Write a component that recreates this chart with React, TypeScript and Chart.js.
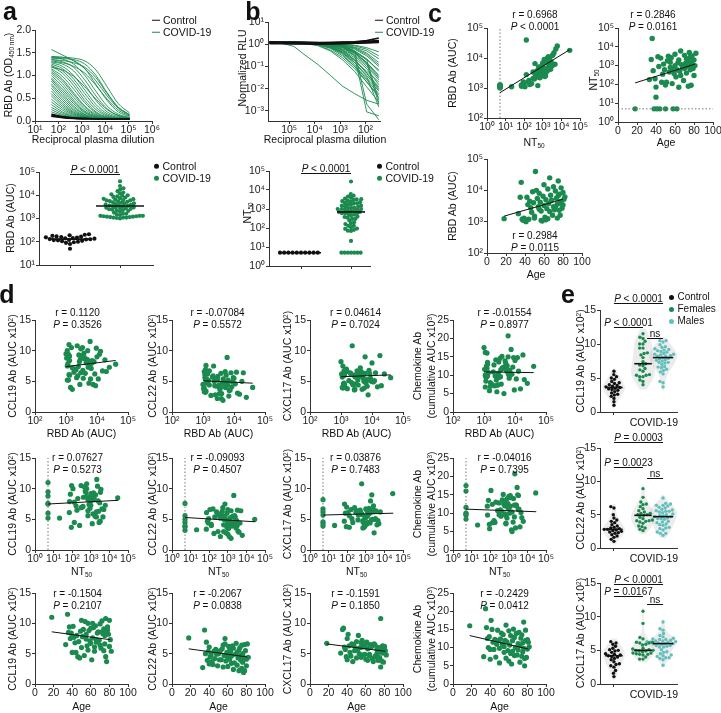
import React, { useEffect, useRef } from "react";
import { Chart, registerables } from "chart.js";

Chart.register(...registerables);

const FONT = "'Liberation Sans', Arial, Helvetica, sans-serif";
const GREEN = "#1b8a4f";
const TEAL = "#62bfbb";
const BLACK = "#111111";
const AXIS = "#333333";
const DOTTED = "#777777";

// ---------------- data ----------------
const patientAge = [18,33,35,36,37,38,39,40,40,41, 42,43,44,45,46,47,48,49,50,50, 51,52,53,54,55,55,56,57,57,58, 59,60,60,61,62,62,63,64,64,65, 66,66,67,68,69,70,70,71,72,72, 73,74,74,75,75,76,76,77,77,78, 78,79,80,80,81,82];
const patientSex = ["F","M","F","M","F","M","F","M","F","M", "M","F","F","M","F","M","M","F","M","F", "M","M","F","M","F","M","M","F","M","M", "F","M","M","F","M","F","M","M","F","M", "M","F","M","F","M","M","F","M","F","M", "M","F","M","M","F","M","F","M","M","F", "M","M","F","M","M","F"];
const patientNt50 = [5,180,2100,28000,540,5,200,72,21,5, 3000,900,5,2500,130,350,1200,600,93,5, 130,1800,3200,450,800,1500,2600,110,700,5, 380,1000,4000,250,5,600,1400,70,2000,500, 6000,300,1100,800,160,3500,700,1300,2300,400, 900,1700,80,5000,1000,2800,600,1500,90,3300, 1200,700,2000,300,1000,4500];
const patientRbd = [1250,1800,6000,18000,1200,1100,1300,1150,1100,1000, 6000,3500,1200,4500,2800,2000,9000,4000,1500,1300, 40000,10000,5500,3000,2500,8000,4200,1100,2200,1050, 6500,3300,15000,1400,1150,5000,2600,1250,11000,3800, 25000,2100,7000,4800,1600,13000,3000,2400,9500,2900, 5600,3600,1300,20000,6800,7500,2300,4400,1600,12000, 3900,2700,8500,3400,5200,6200];
const patientCcl19 = [11.0,6.5,11.5,8.5,9.4,7.5,8.4,7.9,5.2,9.5, 7.7,6.8,5.2,8.0,4.5,7.0,4.3,8.7,10.5,6.0, 7.8,9.0,4.7,10.3,7.4,8.2,6.3,10.0,5.6,8.8, 7.1,9.2,6.7,4.0,7.6,10.0,9.3,6.1,5.4,9.6, 7.3,6.9,8.4,8.6,7.2,9.9,6.4,5.9,10.4,8.6, 8.3,5.5,9.1,6.6,8.0,4.5,10.8,8.5,3.7,9.4, 8.9,8.2,6.2,10.5,7.3,5.4];
const patientCcl22 = [7.6,2.7,8.9,5.0,6.9,3.9,5.4,6.1,3.3,4.5, 4.8,3.7,3.2,5.4,4.2,5.7,4.9,3.0,5.1,5.0, 4.0,5.5,4.0,5.8,2.8,6.4,4.7,6.6,7.5,3.8, 5.2,4.4,2.9,6.2,5.6,4.1,5.3,3.4,4.6,6.3, 2.4,5.9,3.5,4.9,6.7,3.1,5.2,4.3,5.6,2.2, 6.0,3.9,4.7,6.4,2.6,3.6,5.0,1.9,4.4,6.5, 2.2,5.5,4.1,3.0,6.6,4.4];
const patientCxcl17 = [6.7,5.1,9.0,9.2,6.1,5.7,4.5,7.5,4.0,8.2, 6.3,5.2,4.6,6.6,3.7,6.4,5.5,5.9,7.0,4.3, 5.6,8.0,5.0,6.0,4.4,6.8,7.2,6.1,4.8,6.2, 4.9,6.7,4.1,6.9,3.9,5.8,6.0,4.7,4.9,6.5, 6.2,6.2,4.2,3.7,6.6,6.4,4.6,4.5,5.0,5.7, 3.9,4.4,6.0,4.3,5.3,2.8,10.8,5.9,3.8,5.1, 6.3,3.6,6.2,6.1,5.5,4.8];
const patientChemokine = [16.0,7.5,20.7,15.5,12.5,10.0,13.0,9.5,6.8,17.5, 15.0,11.5,9.5,12.3,7.4,10.9,14.8,12.0,5.8,9.8, 12.4,14.0,11.0,13.6,8.7,10.3,12.0,16.2,7.1,11.6, 9.2,14.6,6.3,10.7,8.4,13.3,5.5,11.9,9.0,15.1, 7.8,12.8,10.0,13.9,8.0,11.1,9.4,14.2,6.0,10.6, 12.6,7.6,13.5,8.8,11.3,17.0,9.8,5.0,7.0,14.8, 11.9,7.3,12.2,9.6,11.5,10.2];

const controlRbd = [130,150,120,95,180,210,140,110,160,125,100,200,135,90,115,170,145,50,105,190,128,80,155,118,165];
const controlNt50 = [5,5,5,5,5,5,5,5,5,5];
const controlCcl19 = [3.5,1.5,4.2,2.3,5.0,2.8,3.0,6.0,3.4,1.0,3.6,3.7,4.8,3.9,4.0,2.0,4.3,4.5,3.2,3.8,5.2,5.5,2.5,3.3,2.6];
const controlCcl22 = [2.8,1.3,4.0,1.8,2.0,6.2,2.3,2.5,2.6,2.7,1.0,2.8,2.9,3.0,3.1,3.3,3.5,3.8,1.6,4.2,4.5,5.0,6.0,2.2,2.4];
const controlCxcl17 = [4.1,1.6,5.0,2.5,2.7,3.0,6.3,3.6,3.8,4.0,1.1,4.2,4.3,4.5,4.7,4.9,2.0,5.1,5.3,5.6,5.9,6.1,3.3,2.9,4.4];

const elisaDilutions = [50,150,450,1350,4050,12150,36450,109350];
const elisaControlCurves = [
  [0.15,0.10,0.07,0.06,0.05,0.05,0.05,0.05],
  [0.13,0.09,0.06,0.05,0.05,0.05,0.05,0.05],
  [0.11,0.08,0.06,0.05,0.05,0.05,0.05,0.05],
  [0.10,0.07,0.055,0.05,0.05,0.05,0.05,0.05],
];
const elisaCovidCurves = [
  [1.57,1.45,1.32,1.15,0.88,0.55,0.28,0.13],
  [1.40,1.40,1.38,1.32,1.12,0.75,0.38,0.18],
  [1.38,1.37,1.35,1.25,1.00,0.62,0.30,0.14],
  [1.42,1.40,1.33,1.15,0.80,0.45,0.20,0.10],
  [1.40,1.36,1.25,1.00,0.65,0.33,0.15,0.08],
  [1.35,1.30,1.18,0.90,0.55,0.27,0.12,0.07],
  [1.30,1.25,1.10,0.80,0.45,0.20,0.10,0.06],
  [1.28,1.20,1.00,0.68,0.36,0.16,0.08,0.06],
  [1.25,1.15,0.92,0.60,0.30,0.13,0.07,0.05],
  [1.22,1.10,0.85,0.52,0.25,0.11,0.06,0.05],
  [1.20,1.05,0.78,0.45,0.20,0.09,0.06,0.05],
  [1.15,0.98,0.70,0.40,0.18,0.08,0.05,0.05],
  [1.12,0.92,0.62,0.33,0.15,0.07,0.05,0.05],
  [1.08,0.88,0.58,0.30,0.13,0.07,0.05,0.05],
  [1.05,0.82,0.52,0.26,0.11,0.06,0.05,0.05],
  [1.00,0.76,0.46,0.22,0.10,0.06,0.05,0.05],
  [0.95,0.70,0.42,0.20,0.09,0.06,0.05,0.05],
  [0.92,0.65,0.38,0.18,0.08,0.05,0.05,0.05],
  [0.88,0.60,0.33,0.15,0.07,0.05,0.05,0.05],
  [0.82,0.55,0.30,0.14,0.07,0.05,0.05,0.05],
  [0.78,0.50,0.26,0.12,0.06,0.05,0.05,0.05],
  [0.72,0.45,0.23,0.11,0.06,0.05,0.05,0.05],
  [0.66,0.40,0.20,0.10,0.06,0.05,0.05,0.05],
  [0.60,0.36,0.18,0.09,0.06,0.05,0.05,0.05],
  [0.55,0.32,0.16,0.08,0.05,0.05,0.05,0.05],
  [0.48,0.28,0.14,0.08,0.05,0.05,0.05,0.05],
  [0.42,0.24,0.12,0.07,0.05,0.05,0.05,0.05],
  [0.36,0.20,0.10,0.07,0.05,0.05,0.05,0.05],
  [0.30,0.17,0.09,0.06,0.05,0.05,0.05,0.05],
  [0.25,0.14,0.08,0.06,0.05,0.05,0.05,0.05],
  [0.20,0.12,0.07,0.06,0.05,0.05,0.05,0.05],
  [1.32,1.28,1.20,1.05,0.78,0.48,0.24,0.11],
  [1.18,1.12,0.98,0.75,0.48,0.25,0.12,0.07],
  [1.35,1.33,1.28,1.18,0.95,0.60,0.30,0.14],
];

const neutDilutions = [590490,196830,65610,21870,7290,2430,810,270,90,30];
const neutControlCurves = [
  [1.15,1.15,1.12,1.1,1.1,1.12,1.15,1.2,1.25,1.3],
  [1.25,1.2,1.2,1.18,1.15,1.18,1.2,1.25,1.35,1.45],
  [1.1,1.1,1.08,1.05,1.05,1.08,1.1,1.12,1.2,1.25],
  [1.3,1.25,1.25,1.22,1.2,1.2,1.25,1.3,1.45,1.9],
  [1.2,1.15,1.15,1.12,1.12,1.15,1.18,1.22,1.3,1.4],
  [1.05,1.05,1.03,1.02,1.0,1.02,1.05,1.1,1.15,1.2],
];
const neutCovidCurves = [
  [1.3,1.1,0.8,0.3,0.12,0.04,0.013,0.006,0.003,0.002],
  [1.2,1.25,1.2,1.15,1.1,1.0,0.9,0.5,0.002,0.0004],
  [1.15,1.2,1.2,1.15,1.1,1.0,0.8,0.3,0.0009,0.0006],
  [1.25,1.2,1.2,1.1,1.0,0.7,0.35,0.1,0.02,0.005],
  [1.2,1.3,1.15,1.1,1.0,0.8,0.5,0.2,0.05,0.012],
  [1.1,1.2,1.2,1.15,1.05,0.9,0.65,0.35,0.12,0.03],
  [1.2,1.15,1.2,1.2,1.1,1.0,0.8,0.5,0.22,0.06],
  [1.3,1.2,1.25,1.2,1.15,1.05,0.9,0.7,0.4,0.15],
  [1.2,1.2,1.2,1.2,1.2,1.1,1.0,0.85,0.6,0.3],
  [1.25,1.2,1.2,1.1,0.9,0.55,0.25,0.08,0.02,0.004],
  [1.2,1.2,1.15,1.05,0.85,0.5,0.2,0.06,0.012,0.0025],
  [1.15,1.2,1.2,1.15,1.0,0.75,0.45,0.18,0.06,0.02],
  [1.2,1.25,1.2,1.2,1.1,0.95,0.7,0.4,0.15,0.04],
  [1.2,1.2,1.3,1.2,1.15,1.0,0.85,0.6,0.3,0.1],
  [1.35,1.2,1.2,1.15,1.05,0.85,0.55,0.25,0.08,0.015],
  [1.2,1.2,1.2,1.1,0.95,0.65,0.3,0.1,0.03,0.008],
  [1.2,1.15,1.2,1.2,1.1,0.9,0.6,0.3,0.1,0.025],
  [1.2,1.2,1.2,1.2,1.2,1.15,1.05,0.9,0.7,0.45],
  [1.1,1.2,1.2,1.15,1.1,0.95,0.75,0.45,0.2,0.07],
  [1.2,1.2,1.2,1.2,1.15,1.05,0.9,0.65,0.35,0.12],
  [1.2,1.25,1.2,1.1,1.0,0.75,0.4,0.12,0.025,0.006],
  [1.2,1.2,1.2,1.2,1.1,0.9,0.55,0.2,0.05,0.01],
  [1.25,1.2,1.15,1.1,0.95,0.7,0.4,0.15,0.04,0.009],
  [1.2,1.2,1.2,1.2,1.15,1.0,0.75,0.4,0.14,0.035],
  [1.2,1.2,1.2,1.2,1.2,1.1,0.95,0.75,0.5,0.22],
  [1.2,1.2,1.2,1.15,1.05,0.8,0.45,0.15,0.035,0.0015],
  [1.2,1.2,1.2,1.2,1.1,0.95,0.75,0.45,0.15,0.002],
  [1.2,1.2,1.2,1.2,1.15,1.0,0.8,0.5,0.2,0.003],
];

// regression lines (endpoints)
const fitRbdVsNt50 = [[5, 700], [28000, 19000]];
const fitNt50VsAge = [[18, 120], [81, 1200]];
const fitRbdVsAge = [[18, 1500], [80, 5200]];
const fitsD = [
  [[[1000, 7.4], [40000, 8.4]], [[1000, 5.1], [40000, 4.7]], [[1000, 5.75], [40000, 6.05]], [[1000, 10.9], [40000, 10.7]]],
  [[[5, 7.5], [30000, 8.1]], [[5, 5.3], [30000, 4.6]], [[5, 5.7], [30000, 6.0]], [[5, 11.1], [30000, 10.4]]],
  [[[18, 8.6], [81, 7.3]], [[18, 5.8], [81, 4.45]], [[18, 6.6], [81, 5.4]], [[18, 13.3], [81, 9.6]]],
];
const statsD = [
  [["0.1120", "= 0.3526"], ["-0.07084", "= 0.5572"], ["0.04614", "= 0.7024"], ["-0.01554", "= 0.8977"]],
  [["0.07627", "= 0.5273"], ["-0.09093", "= 0.4507"], ["0.03876", "= 0.7483"], ["-0.04016", "= 0.7395"]],
  [["-0.1504", "= 0.2107"], ["-0.2067", "= 0.0838"], ["-0.1591", "= 0.1850"], ["-0.2429", "= 0.0412"]],
];
const bracketsE = [
  [[1, 2.69, 16.0, "P < 0.0001"], [1, 2, 12.5, "P < 0.0001"], [2.14, 2.69, 10.9, "ns"]],
  [[1, 2.69, 15.9, "P = 0.0003"], [1, 2, 12.2, "P = 0.0023"], [2.14, 2.69, 10.5, "ns"]],
  [[1, 2.69, 14.9, "P < 0.0001"], [1, 2, 13.1, "P = 0.0167"], [2.14, 2.69, 11.9, "ns"]],
];

// tick values
const ticksOd = [0, 0.5, 1, 1.5, 2];
const ticksDilA = [1e1, 1e2, 1e3, 1e4, 1e5, 1e6];
const ticksAuc = [1e1, 1e2, 1e3, 1e4, 1e5];
const ticksRlu = [1e-3, 1e-2, 1e-1, 1e0, 1e1];
const ticksDilB = [1e2, 1e3, 1e4, 1e5];
const ticksNt = [1e0, 1e1, 1e2, 1e3, 1e4, 1e5];
const ticksAucC = [1e2, 1e3, 1e4, 1e5];
const ticksAge = [0, 20, 40, 60, 80, 100];
const ticks15 = [0, 5, 10, 15];
const ticks25 = [0, 5, 10, 15, 20, 25];
const ticksCat = [1, 2];
const ticksCtrl = [1];
const eGroupX = [1, 2, 2.69];

// ---------------- helpers ----------------
const SUP: Record<string, string> = { "0": "⁰", "1": "¹", "2": "²", "3": "³", "4": "⁴", "5": "⁵", "6": "⁶", "7": "⁷", "8": "⁸", "9": "⁹", "-": "⁻" };
const pow10 = (v: number) => "10" + String(Math.round(Math.log10(v))).split("").map((c) => SUP[c] ?? c).join("");
const fixed1 = (v: number) => v.toFixed(1);
const plain = (v: number) => String(v);
const none = () => "";

type AxisSpec = { type: string; min: number; max: number; ticks: number[]; fmt: (v: number) => string; reverse?: boolean };
type Area = { l: number; t: number; r: number; b: number };
type Pad = { l: number; t: number; r: number; b: number };

const PAD: Pad = { l: 30, t: 8, r: 12, b: 16 };
const PAD_E: Pad = { l: 30, t: 30, r: 12, b: 16 };

function axis(spec: AxisSpec, dir: "x" | "y", size: number) {
  return {
    type: spec.type,
    min: spec.min,
    max: spec.max,
    reverse: !!spec.reverse,
    position: dir === "x" ? "bottom" : "left",
    afterBuildTicks: (s: any) => { s.ticks = spec.ticks.map((v) => ({ value: v })); },
    afterFit: (s: any) => { if (dir === "x") s.height = size; else s.width = size; },
    grid: { display: true, drawOnChartArea: false, drawTicks: true, tickLength: 3, color: AXIS, lineWidth: 1 },
    border: { display: true, color: AXIS, width: 1 },
    ticks: {
      autoSkip: false, maxRotation: 0, minRotation: 0, padding: dir === "x" ? 0 : 1, color: "#222",
      font: { family: FONT, size: 10.5 },
      callback: (v: any) => spec.fmt(Number(v)),
    },
  };
}

function makeConfig(pad: Pad, xs: AxisSpec, ys: AxisSpec, datasets: any[], pluginOpts: any = {}, plugins: any[] = []) {
  return {
    type: "scatter",
    data: { datasets },
    options: {
      animation: false, responsive: false, maintainAspectRatio: false, devicePixelRatio: 1, events: [],
      layout: { padding: { left: 0, top: pad.t, right: pad.r, bottom: 0 } },
      plugins: { legend: { display: false }, tooltip: { enabled: false }, ...pluginOpts },
      scales: { x: axis(xs, "x", pad.b), y: axis(ys, "y", pad.l) },
    },
    plugins,
  };
}

const pointsDs = (pts: any[], color: string, radius: number) => ({
  data: pts, showLine: false, backgroundColor: color, borderColor: color, pointBackgroundColor: color,
  pointBorderWidth: 0, pointRadius: radius, clip: false,
});
const lineDs = (pts: any[], color: string, width: number, dash: number[] = [], smooth = false) => ({
  data: pts, showLine: true, borderColor: color, backgroundColor: color, borderWidth: width, borderDash: dash,
  pointRadius: 0, fill: false, tension: 0, cubicInterpolationMode: smooth ? "monotone" : "default",
});
const pairs = (arr: number[][]) => arr.map(([x, y]) => ({ x, y }));
const median = (vals: number[]) => { const s = [...vals].sort((a, b) => a - b); const n = s.length; return n % 2 ? s[(n - 1) / 2] : (s[n / 2 - 1] + s[n / 2]) / 2; };

function swarm(pys: number[], diam: number): number[] {
  const idx = pys.map((_, i) => i).sort((a, b) => pys[a] - pys[b]);
  const placed: { x: number; y: number }[] = [];
  const out = new Array(pys.length).fill(0);
  for (const i of idx) {
    const y0 = pys[i];
    const iv: [number, number][] = [];
    for (const p of placed) {
      const dy = Math.abs(p.y - y0);
      if (dy < diam) { const dx = Math.sqrt(diam * diam - dy * dy); iv.push([p.x - dx, p.x + dx]); }
    }
    const cands = [0];
    for (const [a, b] of iv) cands.push(a, b);
    cands.sort((a, b) => Math.abs(a) - Math.abs(b) || a - b);
    let best = 0;
    for (const c of cands) { if (!iv.some(([a, b]) => c > a + 1e-6 && c < b - 1e-6)) { best = c; break; } }
    placed.push({ x: best, y: y0 });
    out[i] = best;
  }
  return out;
}

function swarmPoints(values: number[], center: number, xs: AxisSpec, ys: AxisSpec, area: Area, diam: number) {
  const H = area.b - area.t, W = area.r - area.l;
  const toPx = (v: number) => ys.type === "logarithmic"
    ? (Math.log10(v) - Math.log10(ys.min)) / (Math.log10(ys.max) - Math.log10(ys.min)) * H
    : (v - ys.min) / (ys.max - ys.min) * H;
  const offs = swarm(values.map(toPx), diam);
  const ppu = W / (xs.max - xs.min);
  return values.map((v, i) => ({ x: center + offs[i] / ppu, y: v }));
}

function drawRich(ctx: any, cx: number, baseline: number, text: string) {
  const size = 10;
  const ital = `italic ${size}px ${FONT}`, norm = `${size}px ${FONT}`;
  let head = "", rest = text;
  if (text.startsWith("P")) { head = "P"; rest = text.slice(1); }
  ctx.font = ital; const w1 = head ? ctx.measureText(head).width : 0;
  ctx.font = norm; const w2 = ctx.measureText(rest).width;
  const x0 = cx - (w1 + w2) / 2;
  ctx.textAlign = "left"; ctx.textBaseline = "alphabetic"; ctx.fillStyle = BLACK;
  if (head) { ctx.font = ital; ctx.fillText(head, x0, baseline); }
  ctx.font = norm; ctx.fillText(rest, x0 + w1, baseline);
}

const bracketPlugin = {
  id: "brackets",
  afterDraw(chart: any, _a: any, opts: any) {
    const items = (opts && opts.items) || [];
    const { ctx } = chart;
    const x = chart.scales.x, y = chart.scales.y;
    ctx.save();
    ctx.strokeStyle = BLACK; ctx.lineWidth = 1;
    for (const [a, b, v, text] of items) {
      const x1 = x.getPixelForValue(a), x2 = x.getPixelForValue(b);
      const py = Math.round(y.getPixelForValue(v)) + 0.5;
      ctx.beginPath(); ctx.moveTo(x1, py); ctx.lineTo(x2, py); ctx.stroke();
      drawRich(ctx, (x1 + x2) / 2, py - 2, text);
    }
    ctx.restore();
  },
};

const violinPlugin = {
  id: "violins",
  beforeDatasetsDraw(chart: any, _a: any, opts: any) {
    const groups = (opts && opts.groups) || [];
    const { ctx } = chart;
    const x = chart.scales.x, y = chart.scales.y;
    ctx.save();
    ctx.fillStyle = "rgba(0,0,0,0.075)";
    for (const g of groups) {
      const vals: number[] = g.values; const n = vals.length;
      const mean = vals.reduce((a, b) => a + b, 0) / n;
      const sd = Math.sqrt(vals.reduce((a, b) => a + (b - mean) ** 2, 0) / (n - 1));
      const h = 1.06 * sd * Math.pow(n, -0.2);
      const lo = Math.max(0, Math.min(...vals) - h * 0.6), hi = Math.max(...vals) + h * 0.6;
      const steps = 50; const vs: number[] = []; const ds: number[] = [];
      for (let i = 0; i <= steps; i++) {
        const v = lo + (hi - lo) * i / steps; vs.push(v);
        ds.push(vals.reduce((a, b) => a + Math.exp(-0.5 * ((v - b) / h) ** 2), 0));
      }
      const dmax = Math.max(...ds);
      const cx = x.getPixelForValue(g.x);
      ctx.beginPath();
      vs.forEach((v, i) => { const px = cx - ds[i] / dmax * g.half; const py = y.getPixelForValue(v); if (i === 0) ctx.moveTo(px, py); else ctx.lineTo(px, py); });
      for (let i = vs.length - 1; i >= 0; i--) ctx.lineTo(cx + ds[i] / dmax * g.half, y.getPixelForValue(vs[i]));
      ctx.closePath(); ctx.fill();
    }
    ctx.restore();
  },
};

// ---------------- chart builders ----------------
const areaA1: Area = { l: 35, t: 30, r: 152, b: 121 };
const areaA2: Area = { l: 39, t: 172, r: 153, b: 265 };
const areaB1: Area = { l: 268, t: 22, r: 380, b: 121 };
const areaB2: Area = { l: 269, t: 171, r: 370, b: 266 };
const areaC1: Area = { l: 487, t: 28, r: 580, b: 118 };
const areaC2: Area = { l: 618, t: 28, r: 713, b: 122 };
const areaC3: Area = { l: 487, t: 159, r: 582, b: 253 };
const dCols = [35, 172, 310, 453];
const dRows = [[320, 412], [458, 550], [593, 684]];
const eRows = [[310, 412], [448, 548], [583, 684]];

function buildA1() {
  const xs = { type: "logarithmic", min: 10, max: 1e6, ticks: ticksDilA, fmt: pow10 };
  const ys = { type: "linear", min: 0, max: 2, ticks: ticksOd, fmt: fixed1 };
  const ds = [
    ...elisaControlCurves.map((c) => lineDs(elisaDilutions.map((d, i) => ({ x: d, y: c[i] })), BLACK, 1.3, [], true)),
    ...elisaCovidCurves.map((c) => lineDs(elisaDilutions.map((d, i) => ({ x: d, y: c[i] })), GREEN, 0.9, [], true)),
  ];
  return makeConfig(PAD, xs, ys, ds);
}

function buildA2() {
  const xs = { type: "linear", min: 0.38, max: 2.66, ticks: ticksCat, fmt: none };
  const ys = { type: "logarithmic", min: 10, max: 1e5, ticks: ticksAuc, fmt: pow10 };
  const mc = median(controlRbd), mv = median(patientRbd);
  const ds = [
    lineDs([{ x: 0.62, y: mc }, { x: 1.38, y: mc }], BLACK, 1.6),
    lineDs([{ x: 1.52, y: mv }, { x: 2.48, y: mv }], BLACK, 1.6),
    pointsDs(swarmPoints(controlRbd, 1, xs, ys, areaA2, 4.2), BLACK, 2.1),
    pointsDs(swarmPoints(patientRbd, 2, xs, ys, areaA2, 3.3), GREEN, 2.1),
  ];
  return makeConfig(PAD, xs, ys, ds, { brackets: { items: [[1, 2, 85000, "P < 0.0001"]] } }, [bracketPlugin]);
}

function buildB1() {
  const xs = { type: "logarithmic", min: 27, max: 6.8e5, ticks: ticksDilB, fmt: pow10, reverse: true };
  const ys = { type: "logarithmic", min: 3.5e-4, max: 10, ticks: ticksRlu, fmt: pow10 };
  const ds = [
    ...neutControlCurves.map((c) => lineDs(neutDilutions.map((d, i) => ({ x: d, y: c[i] })), BLACK, 1.6)),
    ...neutCovidCurves.map((c) => lineDs(neutDilutions.map((d, i) => ({ x: d, y: c[i] })), GREEN, 0.9)),
  ];
  return makeConfig(PAD, xs, ys, ds);
}

function buildB2() {
  const xs = { type: "linear", min: 0.36, max: 2.38, ticks: ticksCat, fmt: none };
  const ys = { type: "logarithmic", min: 1, max: 1e5, ticks: ticksNt, fmt: pow10 };
  const mc = median(controlNt50), mv = median(patientNt50);
  const ds = [
    lineDs([{ x: 0.6, y: mc }, { x: 1.4, y: mc }], BLACK, 1.6),
    lineDs([{ x: 1.72, y: mv }, { x: 2.28, y: mv }], BLACK, 1.6),
    pointsDs(swarmPoints(controlNt50, 1, xs, ys, areaB2, 4.2), BLACK, 2.1),
    pointsDs(swarmPoints(patientNt50, 2, xs, ys, areaB2, 3.2), GREEN, 2.1),
  ];
  return makeConfig(PAD, xs, ys, ds, { brackets: { items: [[1, 2, 76000, "P < 0.0001"]] } }, [bracketPlugin]);
}

function buildC1() {
  const xs = { type: "logarithmic", min: 1, max: 1e5, ticks: ticksNt, fmt: pow10 };
  const ys = { type: "logarithmic", min: 100, max: 1e5, ticks: ticksAucC, fmt: pow10 };
  const ds = [
    lineDs(pairs(fitRbdVsNt50), BLACK, 1),
    lineDs([{ x: 5, y: 100 }, { x: 5, y: 1e5 }], DOTTED, 1, [1.5, 2]),
    pointsDs(patientNt50.map((v, i) => ({ x: v, y: patientRbd[i] })), GREEN, 2.7),
  ];
  return makeConfig(PAD, xs, ys, ds);
}

function buildC2() {
  const xs = { type: "linear", min: 0, max: 100, ticks: ticksAge, fmt: plain };
  const ys = { type: "logarithmic", min: 1, max: 1e5, ticks: ticksNt, fmt: pow10 };
  const ds = [
    lineDs(pairs(fitNt50VsAge), BLACK, 1),
    lineDs([{ x: 0, y: 5 }, { x: 100, y: 5 }], DOTTED, 1, [1.5, 2]),
    pointsDs(patientAge.map((v, i) => ({ x: v, y: patientNt50[i] })), GREEN, 2.7),
  ];
  return makeConfig(PAD, xs, ys, ds);
}

function buildC3() {
  const xs = { type: "linear", min: 0, max: 100, ticks: ticksAge, fmt: plain };
  const ys = { type: "logarithmic", min: 100, max: 1e5, ticks: ticksAucC, fmt: pow10 };
  const ds = [
    lineDs(pairs(fitRbdVsAge), BLACK, 1),
    pointsDs(patientAge.map((v, i) => ({ x: v, y: patientRbd[i] })), GREEN, 2.7),
  ];
  return makeConfig(PAD, xs, ys, ds);
}

const dX = [patientRbd, patientNt50, patientAge];
const dY = [patientCcl19, patientCcl22, patientCxcl17, patientChemokine];
const dXSpec = [
  { type: "logarithmic", min: 100, max: 1e5, ticks: ticksAucC, fmt: pow10 },
  { type: "logarithmic", min: 1, max: 1e5, ticks: ticksNt, fmt: pow10 },
  { type: "linear", min: 0, max: 100, ticks: ticksAge, fmt: plain },
];

function buildD(r: number, c: number) {
  const xs = dXSpec[r];
  const ymax = c === 3 ? 25 : 15;
  const ys = { type: "linear", min: 0, max: ymax, ticks: c === 3 ? ticks25 : ticks15, fmt: plain };
  const ds: any[] = [lineDs(pairs(fitsD[r][c]), BLACK, 1)];
  if (r === 1) ds.push(lineDs([{ x: 5, y: 0 }, { x: 5, y: ymax }], DOTTED, 1, [1.5, 2]));
  ds.push(pointsDs(dX[r].map((v, i) => ({ x: v, y: dY[c][i] })), GREEN, 2.6));
  return makeConfig(PAD, xs, ys, ds);
}

const eControls = [controlCcl19, controlCcl22, controlCxcl17];
const eValues = [patientCcl19, patientCcl22, patientCxcl17];

function buildE(k: number) {
  const area = { l: 600, t: eRows[k][0], r: 677, b: eRows[k][1] };
  const xs = { type: "linear", min: 0.52, max: 3.17, ticks: ticksCtrl, fmt: none };
  const ys = { type: "linear", min: 0, max: 15, ticks: ticks15, fmt: plain };
  const ctrl = eControls[k];
  const fem = eValues[k].filter((_, i) => patientSex[i] === "F");
  const male = eValues[k].filter((_, i) => patientSex[i] === "M");
  const groups = [ctrl, fem, male];
  const colors = [BLACK, GREEN, TEAL];
  const halfW = [0.3, 0.3, 0.35];
  const ds: any[] = [];
  groups.forEach((g, j) => {
    const m = median(g);
    ds.push(lineDs([{ x: eGroupX[j] - halfW[j], y: m }, { x: eGroupX[j] + halfW[j], y: m }], BLACK, 1.6));
  });
  groups.forEach((g, j) => ds.push(pointsDs(swarmPoints(g, eGroupX[j], xs, ys, area, 3.4), colors[j], 1.7)));
  const violins = { groups: [
    { x: eGroupX[0], values: ctrl, half: 11 },
    { x: eGroupX[1], values: fem, half: 12 },
    { x: eGroupX[2], values: male, half: 14 },
  ] };
  return makeConfig(PAD_E, xs, ys, ds, { brackets: { items: bracketsE[k] }, violins }, [violinPlugin, bracketPlugin]);
}

// ---------------- components ----------------
function ChartCanvas({ area, pad, make }: { area: Area; pad: Pad; make: () => any }) {
  const ref = useRef<HTMLCanvasElement | null>(null);
  useEffect(() => {
    if (!ref.current) return;
    const chart = new Chart(ref.current, make());
    return () => chart.destroy();
  }, []);
  const w = area.r - area.l + pad.l + pad.r;
  const h = area.b - area.t + pad.t + pad.b;
  return (
    <canvas ref={ref} width={w} height={h}
      style={{ position: "absolute", left: area.l - pad.l, top: area.t - pad.t, width: w, height: h }} />
  );
}

const Sub = ({ children }: any) => <span style={{ fontSize: "0.62em", position: "relative", top: "0.35em" }}>{children}</span>;
const Sup = ({ children }: any) => <span style={{ fontSize: "0.62em", position: "relative", top: "-0.45em" }}>{children}</span>;

function Txt({ x, y, children, size = 10.5, rot = false, align = "center", weight = 400 }: any) {
  const tx = align === "left" ? "0%" : align === "right" ? "-100%" : "-50%";
  return (
    <div style={{
      position: "absolute", left: x, top: y,
      transform: `translate(${tx}, -50%)` + (rot ? " rotate(-90deg)" : ""),
      fontSize: size, lineHeight: 1, whiteSpace: "nowrap", fontWeight: weight,
    }}>{children}</div>
  );
}

function Legend({ x, y, items, kind, size = 10.5, gap = 12 }: any) {
  return (
    <>
      {items.map((it: any, i: number) => (
        <div key={i} style={{ position: "absolute", left: x, top: y + i * gap, transform: "translateY(-50%)", display: "flex", alignItems: "center", whiteSpace: "nowrap", fontSize: size, lineHeight: 1 }}>
          {kind === "line"
            ? <span style={{ display: "inline-block", width: 8, height: 1.5, background: it.color, marginRight: 3 }} />
            : <span style={{ display: "inline-block", width: 5, height: 5, borderRadius: "50%", background: it.color, marginRight: 3.5 }} />}
          <span>{it.label}</span>
        </div>
      ))}
    </>
  );
}

function RP({ x, y, r, p }: any) {
  return (
    <>
      <Txt x={x} y={y} size={10}>r = {r}</Txt>
      <Txt x={x} y={y + 12} size={10}><i>P</i> {p}</Txt>
    </>
  );
}

const dYTitles = ["CCL19", "CCL22", "CXCL17"];
const dYTitleX = [12, 152, 287];
const dXTitleY = [433, 571, 706];
const dRpY = [313, 458, 594];
const dRpDx = [-4, -1, -1, 5];
const eTitleY = [361, 498, 633];
const eTitles = ["CCL19", "CCL22", "CXCL17"];

export default function App() {
  const dCharts: any[] = [];
  const dTexts: any[] = [];
  for (let r = 0; r < 3; r++) {
    for (let c = 0; c < 4; c++) {
      const area = { l: dCols[c], t: dRows[r][0], r: dCols[c] + 93, b: dRows[r][1] };
      dCharts.push(<ChartCanvas key={`d${r}${c}`} area={area} pad={PAD} make={() => buildD(r, c)} />);
      const cx = dCols[c] + 46.5;
      dTexts.push(<RP key={`rp${r}${c}`} x={cx + dRpDx[c]} y={dRpY[r]} r={statsD[r][c][0]} p={statsD[r][c][1]} />);
      const xt = r === 0 ? "RBD Ab (AUC)" : r === 1 ? <>NT<Sub>50</Sub></> : "Age";
      dTexts.push(<Txt key={`xt${r}${c}`} x={cx} y={dXTitleY[r]}>{xt}</Txt>);
      const cy = (dRows[r][0] + dRows[r][1]) / 2;
      if (c < 3) {
        dTexts.push(<Txt key={`yt${r}${c}`} x={dYTitleX[c]} y={cy} rot>{dYTitles[c]} Ab (AUC x10<Sup>2</Sup>)</Txt>);
      } else {
        dTexts.push(<Txt key={`yt${r}${c}a`} x={417} y={cy} rot>Chemokine Ab</Txt>);
        dTexts.push(<Txt key={`yt${r}${c}b`} x={431} y={cy} rot>(cumulative AUC x10<Sup>3</Sup>)</Txt>);
      }
    }
  }

  return (
    <div style={{ position: "absolute", left: 0, top: 0, width: 721, height: 713, overflow: "hidden", background: "#fff", fontFamily: FONT, color: "#111" }}>
      {/* charts */}
      <ChartCanvas area={areaA2} pad={PAD} make={buildA2} />
      <ChartCanvas area={areaB1} pad={PAD} make={buildB1} />
      <ChartCanvas area={areaB2} pad={PAD} make={buildB2} />
      <ChartCanvas area={areaC1} pad={PAD} make={buildC1} />
      <ChartCanvas area={areaC2} pad={PAD} make={buildC2} />
      <ChartCanvas area={areaC3} pad={PAD} make={buildC3} />
      {dCharts}
      {[0, 1, 2].map((k) => (
        <ChartCanvas key={`e${k}`} area={{ l: 600, t: eRows[k][0], r: 677, b: eRows[k][1] }} pad={PAD_E} make={() => buildE(k)} />
      ))}
      <ChartCanvas area={areaA1} pad={PAD} make={buildA1} />

      {/* panel letters */}
      <Txt x={10} y={10.5} size={25} weight={700}>a</Txt>
      <Txt x={253} y={11} size={25} weight={700}>b</Txt>
      <Txt x={435} y={13} size={25} weight={700}>c</Txt>
      <Txt x={7} y={294} size={25} weight={700}>d</Txt>
      <Txt x={568} y={294} size={25} weight={700}>e</Txt>

      {/* panel a */}
      <Txt x={8} y={75} rot>RBD Ab (OD<Sub>450 nm</Sub>)</Txt>
      <Txt x={93} y={139}>Reciprocal plasma dilution</Txt>
      <Legend x={152} y={20} kind="line" items={[{ label: "Control", color: BLACK }, { label: "COVID-19", color: GREEN }]} />
      <Txt x={10} y={218} rot>RBD Ab (AUC)</Txt>
      <Legend x={154} y={166} kind="dot" items={[{ label: "Control", color: BLACK }, { label: "COVID-19", color: GREEN }]} />

      {/* panel b */}
      <Txt x={242} y={68} rot>Normalized RLU</Txt>
      <Txt x={325} y={139}>Reciprocal plasma dilution</Txt>
      <Legend x={375} y={20} kind="line" items={[{ label: "Control", color: BLACK }, { label: "COVID-19", color: GREEN }]} />
      <Txt x={247} y={213} rot>NT<Sub>50</Sub></Txt>
      <Legend x={377} y={166} kind="dot" items={[{ label: "Control", color: BLACK }, { label: "COVID-19", color: GREEN }]} />

      {/* panel c */}
      <Txt x={452} y={73} rot>RBD Ab (AUC)</Txt>
      <Txt x={534} y={142}>NT<Sub>50</Sub></Txt>
      <Txt x={535} y={15} size={10}>r = 0.6968</Txt>
      <Txt x={535} y={27} size={10}><i>P</i> &lt; 0.0001</Txt>
      <Txt x={593} y={80} rot>NT<Sub>50</Sub></Txt>
      <Txt x={666} y={142}>Age</Txt>
      <Txt x={653} y={15} size={10}>r = 0.2846</Txt>
      <Txt x={653} y={27} size={10}><i>P</i> = 0.0161</Txt>
      <Txt x={452} y={206} rot>RBD Ab (AUC)</Txt>
      <Txt x={536} y={274}>Age</Txt>
      <Txt x={535} y={236} size={10}>r = 0.2984</Txt>
      <Txt x={535} y={248} size={10}><i>P</i> = 0.0115</Txt>

      {/* panel d */}
      {dTexts}

      {/* panel e */}
      {[0, 1, 2].map((k) => (
        <React.Fragment key={`et${k}`}>
          <Txt x={580} y={eTitleY[k]} rot>{eTitles[k]} Ab (AUC x10<Sup>2</Sup>)</Txt>
          <Txt x={654} y={eRows[k][1] + 10}>COVID-19</Txt>
        </React.Fragment>
      ))}
      <Legend x={669} y={297} kind="dot" size={10} items={[{ label: "Control", color: BLACK }, { label: "Females", color: GREEN }, { label: "Males", color: TEAL }]} />
    </div>
  );
}
